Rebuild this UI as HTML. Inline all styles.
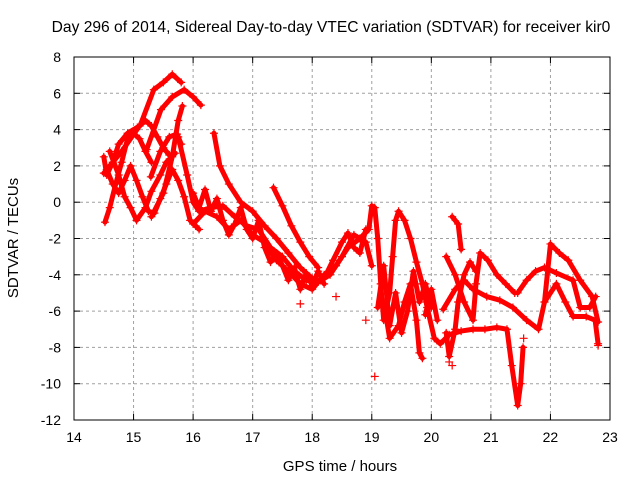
<!DOCTYPE html>
<html><head><meta charset="utf-8"><style>
body{margin:0;background:#fff}
svg{display:block;font-family:"Liberation Sans",sans-serif}
</style></head><body>
<svg id="chart" width="640" height="480">
<rect width="640" height="480" fill="#fff"/>
<text x="331" y="32" text-anchor="middle" font-size="15.6" fill="#000">Day 296 of 2014, Sidereal Day-to-day VTEC variation (SDTVAR) for receiver kir0</text>
<text x="340" y="471" text-anchor="middle" font-size="15">GPS time / hours</text>
<text transform="translate(18,238) rotate(-90)" text-anchor="middle" font-size="15">SDTVAR / TECUs</text>
<g id="grid"></g><g id="marks"></g>
<rect x="74" y="57" width="536" height="363" fill="none" stroke="#000" stroke-width="1"/>
</svg>
<script>
const xTicks=[14,15,16,17,18,19,20,21,22,23];
const yTicks=[8,6,4,2,0,-2,-4,-6,-8,-10,-12];
const L1=[[14.52,-1.1],[14.6,-0.3],[14.7,1],[14.8,2.2],[14.9,3.5],[15.0,3.8],[15.1,3.5],[15.2,2.8],[15.3,2.2]];
const L2=[[14.5,2.5],[14.55,1.5],[14.65,2.2],[14.75,3.2],[14.9,3.8],[15.1,4.2],[15.2,4.5],[15.3,4.2],[15.4,3.6],[15.5,3.0],[15.6,2.6]];
const L3=[[14.55,1.8],[14.65,1.0],[14.75,0.5],[14.85,1.2],[14.95,2.0],[15.05,1.2],[15.15,0.3],[15.25,-0.5],[15.35,-0.6],[15.45,0.2],[15.55,1.0],[15.65,1.8],[15.75,1.2],[15.85,0.3],[15.95,-1.0],[16.1,-1.5]];
const L4=[[14.6,2.8],[14.75,1.5],[14.85,0.3],[14.95,-0.3],[15.05,-1.0],[15.2,-0.3],[15.3,0.6],[15.45,1.5],[15.55,2.2],[15.7,2.7]];
const A1=[[14.5,1.6],[14.8,2.8],[15.12,4.3],[15.34,6.2],[15.5,6.6],[15.65,7.05],[15.8,6.6]];
const A2=[[15.22,2.9],[15.46,5.1],[15.65,5.8],[15.85,6.2],[16.0,5.8],[16.13,5.35]];
const A3=[[15.29,1.4],[15.45,2.8],[15.6,3.6],[15.73,3.75],[15.8,3.2]];
const A4=[[15.3,-0.8],[15.5,0.5],[15.65,2.5],[15.75,4.5],[15.82,5.3]];
const M1=[[15.75,3.6],[15.9,1.5],[16.0,0.0],[16.1,-0.5],[16.3,-0.3],[16.5,-0.2],[16.7,-0.8],[16.9,-1.3],[17.1,-1.5],[17.3,-2.5],[17.5,-3.0],[17.7,-3.8],[17.9,-4.3],[18.1,-4.4],[18.3,-4.0],[18.5,-3.0],[18.7,-1.8],[18.9,-2.2],[19.0,-3.5]];
const M2=[[16.0,-1.2],[16.2,-0.5],[16.4,-0.8],[16.6,-1.5],[16.8,-1.0],[17.0,-1.8],[17.2,-2.2],[17.4,-3.2],[17.6,-3.8],[17.8,-4.5],[18.0,-4.8],[18.2,-4.0],[18.4,-3.5],[18.6,-2.5],[18.8,-2.0]];
const M3=[[16.35,3.8],[16.45,2.0],[16.6,1.0],[16.8,0.0],[17.0,-0.5],[17.2,-1.3],[17.4,-2.0],[17.6,-2.8],[17.8,-3.6],[18.0,-4.2]];
const M4=[[17.35,0.8],[17.5,-0.2],[17.65,-1.3],[17.8,-2.2],[17.95,-3.0],[18.1,-3.6]];
const M5=[[16.0,0.5],[16.1,-0.3],[16.2,0.7],[16.3,-0.5],[16.4,0.2],[16.5,-1.0],[16.6,-1.8],[16.7,-1.2],[16.8,-0.3],[16.9,-1.5],[17.0,-2.0],[17.1,-1.0],[17.2,-2.5],[17.3,-3.3],[17.4,-2.8],[17.5,-3.5],[17.6,-4.3],[17.7,-3.6],[17.8,-4.8],[17.9,-3.9],[18.0,-4.6],[18.1,-3.8],[18.2,-4.5]];
const M6=[[18.2,-4.2],[18.35,-3.2],[18.5,-2.2],[18.6,-1.7],[18.7,-2.5],[18.8,-2.8],[18.9,-1.5]];
const R1=[[18.8,-2.0],[18.95,-1.5],[19.0,-0.2],[19.05,-0.3],[19.1,-2.0],[19.15,-4.5],[19.2,-6.5],[19.3,-5.0],[19.35,-3.0],[19.4,-1.0],[19.45,-0.5],[19.55,-1.0],[19.65,-2.0],[19.75,-3.3],[19.85,-4.5],[19.93,-5.8],[20.05,-7.5],[20.15,-7.8],[20.3,-7.3],[20.5,-7.1],[20.7,-7.0],[20.9,-7.0],[21.1,-6.9],[21.27,-7.0],[21.35,-9],[21.45,-11.2],[21.5,-10],[21.54,-8]];
const R2=[[19.2,-5.5],[19.3,-7.5],[19.45,-6.8],[19.55,-5.5],[19.65,-4.5],[19.75,-6.5],[19.8,-8.3],[19.85,-8.6]];
const R3=[[20.35,-0.8],[20.45,-1.2],[20.5,-2.6]];
const R4=[[20.25,-3.0],[20.4,-4.0],[20.55,-5.5],[20.7,-6.5],[20.75,-4.5],[20.82,-2.8],[20.95,-3.2],[21.1,-4.0],[21.25,-4.5],[21.4,-5.0]];
const R5=[[20.2,-5.9],[20.4,-4.8],[20.55,-4.3],[20.7,-4.8],[20.93,-5.2],[21.15,-5.4],[21.37,-5.8],[21.6,-6.5],[21.8,-7.0],[21.9,-5.5],[22.0,-2.3],[22.15,-2.8],[22.3,-3.2],[22.5,-4.3],[22.7,-5.2],[22.8,-6.6]];
const R6=[[21.45,-5],[21.6,-4.3],[21.75,-3.8],[21.9,-3.6],[22.1,-3.9],[22.38,-4.3],[22.5,-5.8],[22.66,-5.8],[22.76,-5.2]];
const R7=[[21.9,-5.5],[22.1,-4.5],[22.25,-5.5],[22.38,-6.3],[22.6,-6.3],[22.75,-6.5],[22.8,-7.8]];
const R8=[[19.9,-6.2],[20.0,-4.8],[20.1,-6.5]];
const R9=[[19.1,-5.8],[19.2,-3.5],[19.3,-6.8],[19.4,-5.0],[19.5,-7.2],[19.6,-6.0],[19.7,-3.8],[19.8,-5.5],[19.9,-4.5],[20.0,-5.8]];
const R10=[[20.25,-7.2],[20.3,-8.5],[20.4,-7.0],[20.45,-5.5],[20.55,-4.0],[20.65,-3.3],[20.75,-3.8]];
const scattered=[[19.05,-9.6],[18.9,-6.5],[20.3,-8.8],[20.35,-9.0],[21.55,-7.5],[22.8,-7.9],[19.85,-5.2],[18.4,-5.2],[17.8,-5.6]];
const series=[L1,L2,L3,L4,A1,A2,A3,A4,M1,M2,M3,M4,M5,M6,R1,R2,R3,R4,R5,R6,R7,R8,R9,R10];

const NS="http://www.w3.org/2000/svg";
const X=t=>74+(t-14)*536/9;
const Y=v=>57+(8-v)*363/20;
function mk(tag,attrs,parent){const e=document.createElementNS(NS,tag);for(const k in attrs)e.setAttribute(k,attrs[k]);parent.appendChild(e);return e;}
const grid=document.getElementById('grid'),marks=document.getElementById('marks');
xTicks.forEach(t=>{
  if(t>14&&t<23){const g=mk('line',{x1:X(t),x2:X(t),y1:57,y2:420,stroke:'#a0a0a0','stroke-dasharray':'3,3'},grid);
  
  }
  mk('line',{x1:X(t),x2:X(t),y1:420,y2:414,stroke:'#000'},grid);
  mk('line',{x1:X(t),x2:X(t),y1:57,y2:63,stroke:'#000'},grid);
  const l=mk('text',{x:X(t),y:442,'text-anchor':'middle','font-size':'14'},grid);l.textContent=t;
  
  
});
yTicks.forEach(v=>{
  if(v<8&&v>-12){const g=mk('line',{x1:74,x2:610,y1:Y(v),y2:Y(v),stroke:'#a0a0a0','stroke-dasharray':'3,3'},grid);
  
  }
  mk('line',{x1:74,x2:80,y1:Y(v),y2:Y(v),stroke:'#000'},grid);
  mk('line',{x1:604,x2:610,y1:Y(v),y2:Y(v),stroke:'#000'},grid);
  const l=mk('text',{x:61,y:Y(v)+5,'text-anchor':'end','font-size':'14'},grid);l.textContent=v;
  
  
});
function plus(p,parent){const x=X(p[0]),y=Y(p[1]);
  const e=mk('path',{d:`M${x-4},${y}h8M${x},${y-4}v8`,stroke:'#f00','stroke-width':'1.2'},parent);
  
  }
series.forEach(s=>{
  const pl=mk('polyline',{points:s.map(p=>X(p[0])+','+Y(p[1])).join(' '),fill:'none',stroke:'#f00','stroke-width':'5','stroke-linejoin':'round','stroke-linecap':'round'},marks);
  
  
  s.forEach(p=>plus(p,marks));
});
scattered.forEach(p=>plus(p,marks));
</script>
</body></html>
